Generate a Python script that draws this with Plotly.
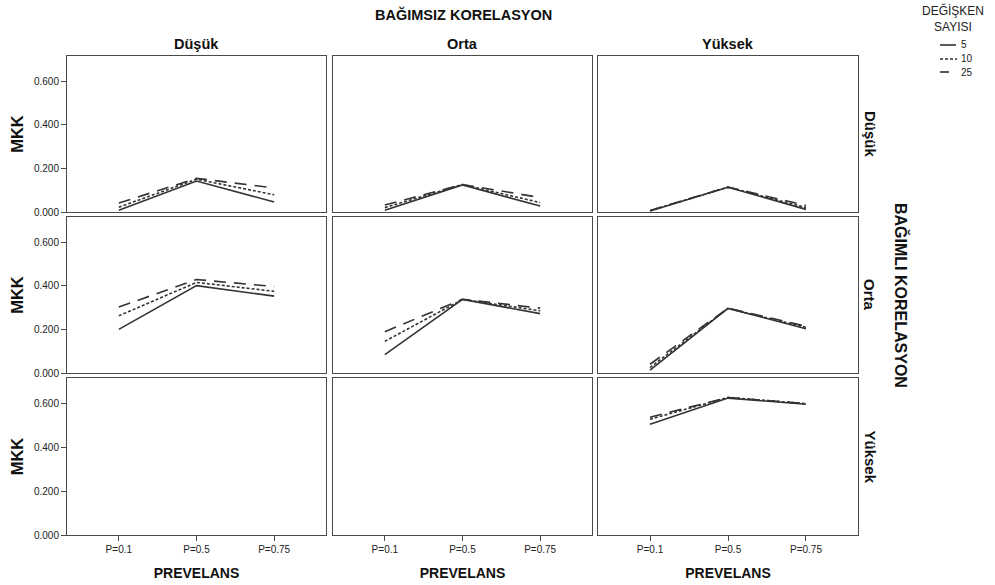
import plotly.graph_objects as go

# Prevalence levels on the x axis
prevalence = ["P=0.1", "P=0.5", "P=0.75"]
# Correlation levels (columns: independent, rows: dependent)
levels = ["Düşük", "Orta", "Yüksek"]
var_counts = ["5", "10", "25"]

# MKK values: mkk_<dependent>_<independent>[var_count]
mkk_dusuk_dusuk = {"5": [0.008, 0.142, 0.046], "10": [0.022, 0.150, 0.079], "25": [0.041, 0.154, 0.110]}
mkk_dusuk_orta = {"5": [0.008, 0.124, 0.027], "10": [0.020, 0.126, 0.043], "25": [0.032, 0.126, 0.066]}
mkk_dusuk_yuksek = {"5": [0.005, 0.113, 0.012], "10": [0.006, 0.114, 0.020], "25": [0.007, 0.114, 0.030]}
mkk_orta_dusuk = {"5": [0.200, 0.400, 0.352], "10": [0.262, 0.415, 0.374], "25": [0.302, 0.428, 0.396]}
mkk_orta_orta = {"5": [0.084, 0.337, 0.272], "10": [0.145, 0.337, 0.285], "25": [0.189, 0.338, 0.297]}
mkk_orta_yuksek = {"5": [0.013, 0.296, 0.203], "10": [0.025, 0.296, 0.209], "25": [0.040, 0.297, 0.214]}
mkk_yuksek_yuksek = {"5": [0.504, 0.623, 0.595], "10": [0.527, 0.626, 0.598], "25": [0.536, 0.626, 0.598]}

panels = {
    (0, 0): mkk_dusuk_dusuk, (0, 1): mkk_dusuk_orta, (0, 2): mkk_dusuk_yuksek,
    (1, 0): mkk_orta_dusuk, (1, 1): mkk_orta_orta, (1, 2): mkk_orta_yuksek,
    (2, 2): mkk_yuksek_yuksek,
}

W, H = 995, 585
col_px = [(67, 326), (333, 592), (598, 858)]
row_px = [(56, 212), (217, 373), (378, 535)]

line_color = "#333333"
frame_color = "#4a4a4a"
dash_styles = {"5": "solid", "10": "3px,2px", "25": "12px,8px"}
FONT = "Arial, Liberation Sans, sans-serif"


def px_x(v):
    return v / W


def px_y(v):
    return 1 - v / H


fig = go.Figure()

layout = dict(
    width=W, height=H,
    margin=dict(l=0, r=0, t=0, b=0),
    paper_bgcolor="white", plot_bgcolor="white",
    font=dict(family=FONT, color="#222222"),
    showlegend=False,
)

for r in range(3):
    for c in range(3):
        idx = r * 3 + c + 1
        xa = "xaxis" if idx == 1 else f"xaxis{idx}"
        ya = "yaxis" if idx == 1 else f"yaxis{idx}"
        xref = "x" if idx == 1 else f"x{idx}"
        yref = "y" if idx == 1 else f"y{idx}"
        x0, x1 = col_px[c]
        y0, y1 = row_px[r]
        layout[xa] = dict(
            domain=[px_x(x0), px_x(x1)], anchor=yref,
            type="category", categoryorder="array", categoryarray=prevalence,
            range=[-0.667, 2.667],
            showline=True, mirror=True, linecolor=frame_color, linewidth=1,
            showgrid=False, zeroline=False,
            ticks="outside" if r == 2 else "", ticklen=5, tickcolor=frame_color,
            showticklabels=(r == 2), tickfont=dict(size=10, family=FONT, color="#222"),
            title=dict(text="<b>PREVELANS</b>" if r == 2 else "", font=dict(size=14, family=FONT, color="#111"),
                       standoff=14),
            automargin=False, fixedrange=True,
        )
        layout[ya] = dict(
            domain=[px_y(y1), px_y(y0)], anchor=xref,
            range=[0, 0.7145],
            tickvals=[0, 0.2, 0.4, 0.6], tickformat=".3f",
            showline=True, mirror=True, linecolor=frame_color, linewidth=1,
            showgrid=False, zeroline=False,
            ticks="outside" if c == 0 else "", ticklen=5, tickcolor=frame_color,
            showticklabels=(c == 0), tickfont=dict(size=10, family=FONT, color="#222"),
            title=dict(text="<b>MKK</b>" if c == 0 else "", font=dict(size=16.5, family=FONT, color="#111"),
                       standoff=6),
            automargin=False, fixedrange=True,
        )
        data = panels.get((r, c))
        if data is None:
            # empty panel still needs a trace so its axes are drawn
            fig.add_trace(go.Scatter(x=prevalence, y=[None] * 3, xaxis=xref, yaxis=yref,
                                     showlegend=False, hoverinfo="skip"))
            continue
        for k in var_counts:
            fig.add_trace(go.Scatter(
                x=prevalence, y=data[k], mode="lines",
                line=dict(color=line_color, width=1.6, dash=dash_styles[k]),
                name=k, legendgroup=k, showlegend=False,
                xaxis=xref, yaxis=yref,
            ))

annotations = [
    dict(text="<b>BAĞIMSIZ KORELASYON</b>", x=px_x(463), y=px_y(14),
         font=dict(size=14.5, family=FONT, color="#111")),
    dict(text="<b>BAĞIMLI KORELASYON</b>", x=px_x(901), y=px_y(295), textangle=90,
         font=dict(size=16, family=FONT, color="#111")),
]
for c, lab in enumerate(levels):
    x0, x1 = col_px[c]
    annotations.append(dict(text=f"<b>{lab}</b>", x=px_x((x0 + x1) / 2), y=px_y(44),
                            font=dict(size=14.5, family=FONT, color="#111")))
for r, lab in enumerate(levels):
    y0, y1 = row_px[r]
    annotations.append(dict(text=f"<b>{lab}</b>", x=px_x(870), y=px_y((y0 + y1) / 2), textangle=90,
                            font=dict(size=15, family=FONT, color="#111")))

# Legend: title plus key lines for each variable count
annotations.append(dict(text="DEĞİŞKEN<br>SAYISI", x=px_x(953), y=px_y(19),
                        font=dict(size=12, family=FONT, color="#222")))
shapes = []
key_rows = [45, 59, 72]
key_ends = {"5": 956, "10": 957, "25": 949}
for k, yy in zip(var_counts, key_rows):
    shapes.append(dict(type="line", xref="paper", yref="paper",
                       x0=px_x(940), x1=px_x(key_ends[k]), y0=px_y(yy), y1=px_y(yy),
                       line=dict(color=line_color, width=1.6,
                                 dash="solid" if k == "25" else dash_styles[k])))
    annotations.append(dict(text=k, x=px_x(959), y=px_y(yy), xanchor="left",
                            font=dict(size=10, family=FONT, color="#222")))

for a in annotations:
    a.setdefault("xref", "paper")
    a.setdefault("yref", "paper")
    a.setdefault("showarrow", False)
    a.setdefault("xanchor", "center")
    a.setdefault("yanchor", "middle")
layout["annotations"] = annotations
layout["shapes"] = shapes

fig.update_layout(**layout)
fig.write_html("out.html")
